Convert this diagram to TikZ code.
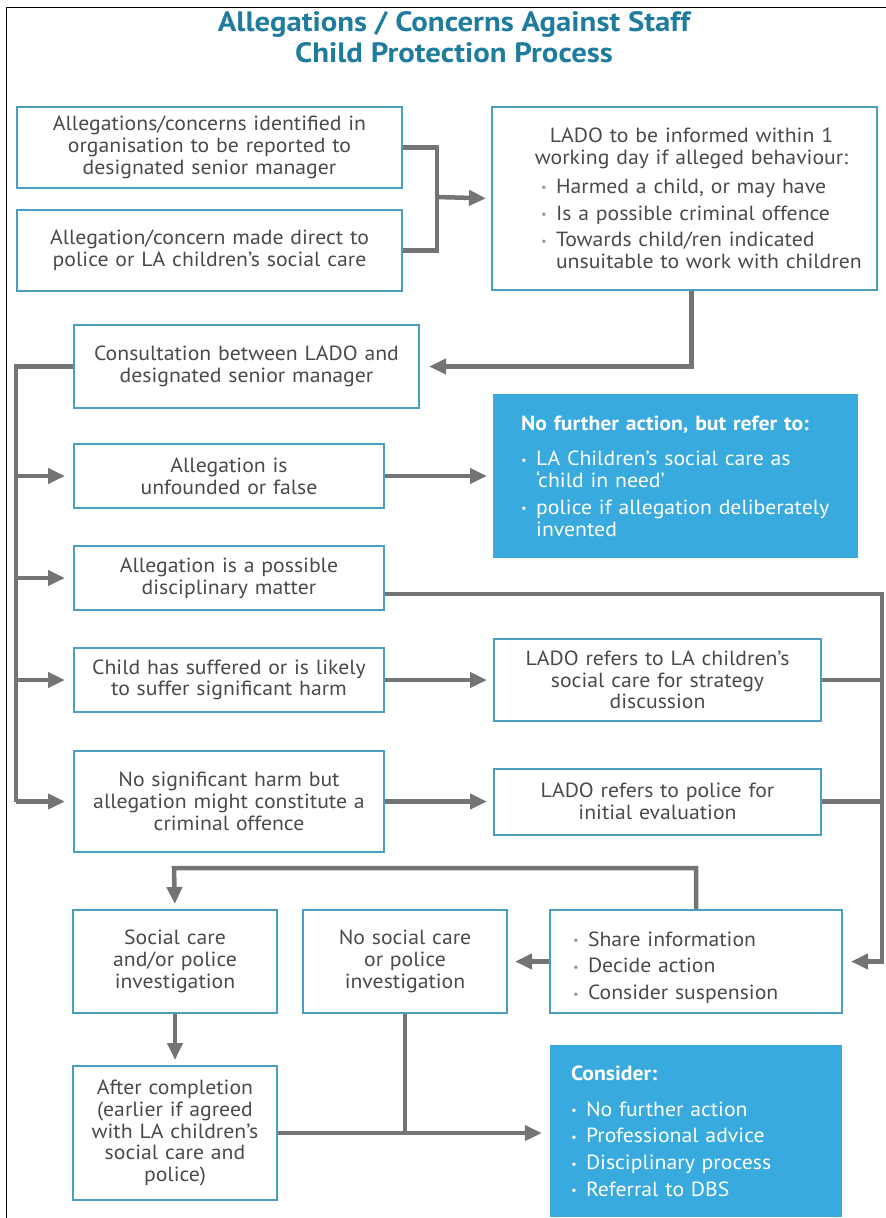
\documentclass[tikz,border=0pt]{standalone}
\usepackage{fontspec}
\setmainfont{PT Sans}[FakeStretch=1.06]
\newfontfamily\cptitlefont{PT Sans}[FakeStretch=1.1]
\usepackage{xcolor}
\usepackage{tikz}
\usetikzlibrary{arrows.meta,positioning}
\definecolor{cpTitle}{HTML}{207C9E}
\definecolor{cpEdge}{HTML}{4A9FC0}
\definecolor{cpFill}{HTML}{39AADD}
\definecolor{cpLine}{HTML}{747474}
\definecolor{cpText}{HTML}{4A4A4A}
\newcommand\cpbody{\fontsize{20.5}{21.7}\selectfont\colorlet{cpDot}{black!40}}
\newcommand\cptitle{\cptitlefont\fontsize{28}{31}\selectfont\bfseries}
\newcommand\cpitem[1]{\par\vspace{5pt}\hangindent=15pt\hangafter=1\noindent
  \makebox[15pt][l]{\raisebox{1.5pt}{\fontsize{12}{12}\selectfont\textcolor{cpDot}{\textbullet}}}#1}

\begin{document}
\begin{tikzpicture}[
  x=1pt, y=-1pt,
  >={Triangle[length=17pt,width=15pt]},
  every node/.style={font=\cpbody, text=cpText},
  box/.style={draw=cpEdge, line width=2pt, fill=white, inner sep=0pt, align=center},
  listbox/.style={box, align=left},
  bluebox/.style={fill=cpFill, inner ysep=0pt, align=left, text=white, font={\cpbody\colorlet{cpDot}{white}}},
  conn/.style={draw=cpLine, line width=4.5pt},
]
  \useasboundingbox (0,0) rectangle (886,1218);
  \draw[line width=1pt] (6,1218) -- (6,7) -- (886,7);

  \node[font=\cptitle, text=cpTitle, align=center] (title) at (454,37)
    {Allegations / Concerns Against Staff\\Child Protection Process};

  % reporting
  \node[box, anchor=north west, text width=385pt, minimum height=81pt] (ident) at (16,106)
    {Allegations/concerns identified in\\organisation to be reported to\\designated senior manager};
  \node[box, below=20pt of ident, text width=385pt, minimum height=81pt] (direct)
    {Allegation/concern made direct to\\police or LA children’s social care};
  \node[listbox, anchor=north west, inner xsep=12pt, text width=361pt, minimum height=183pt] (lado) at (491,106)
    {{\centering\leftskip=14pt plus 1fil\relax LADO to be informed within 1\\working day if alleged behaviour:\par}
     \vspace{2pt}\leftskip=37pt\relax
     \cpitem{Harmed a child, or may have}
     \cpitem{Is a possible criminal offence}
     \cpitem{Towards child/ren indicated\newline unsuitable to work with children}\par};

  % consultation and outcomes
  \node[box, anchor=north west, text width=345pt, minimum height=83pt] (consult) at (73,324)
    {Consultation between LADO and\\designated senior manager};
  \node[box, anchor=north west, text width=310pt, minimum height=64pt] (unfound) at (73,443)
    {Allegation is\\unfounded or false};
  \node[box, below=36pt of unfound, text width=310pt, minimum height=64pt] (discip)
    {Allegation is a possible\\disciplinary matter};
  \node[box, below=36pt of discip, text width=310pt, minimum height=64pt] (harm)
    {Child has suffered or is likely\\to suffer significant harm};
  \node[box, below=37pt of harm, text width=310pt, minimum height=101pt] (crim)
    {No significant harm but\\allegation might constitute a\\criminal offence};

  \node[bluebox, right=108pt of unfound, inner xsep=20pt, text width=325pt, minimum height=164pt] (nfa)
    {\leftskip=8pt\relax\textbf{No further action, but refer to:}\par\vspace{9pt}
     \cpitem{LA Children’s social care as\newline ‘child in need’}
     \cpitem{police if allegation deliberately\newline invented}\par};
  \node[box, right=108pt of harm, text width=327pt, minimum height=82pt] (strat)
    {LADO refers to LA children’s\\social care for strategy\\discussion};
  \node[box, right=108pt of crim, text width=327pt, minimum height=66pt] (police)
    {LADO refers to police for\\initial evaluation};

  % investigation
  \node[box, anchor=north west, text width=204pt, minimum height=103pt] (invest) at (72,909)
    {Social care\\and/or police\\investigation};
  \node[box, right=24pt of invest, text width=204pt, minimum height=103pt] (noinv)
    {No social care\\or police\\investigation};
  \node[listbox, right=41pt of noinv, inner xsep=23pt, text width=246pt, minimum height=103pt] (share)
    {\cpitem{Share information}
     \cpitem{Decide action}
     \cpitem{Consider suspension}\par};
  \node[box, below=51pt of invest, text width=204pt, minimum height=134pt] (after)
    {After completion\\(earlier if agreed\\with LA children’s\\social care and\\police)};
  \node[bluebox, below=31pt of share, inner xsep=21pt, text width=250pt, minimum height=172pt] (consider)
    {\textbf{Consider:}\par\vspace{9pt}
     \cpitem{No further action}
     \cpitem{Professional advice}
     \cpitem{Disciplinary process}
     \cpitem{Referral to DBS}\par};

  % connectors
  \coordinate (merge) at (437,197);
  \coordinate (spine) at (16,0);
  \coordinate (rail) at (882,0);
  \coordinate (loop) at (174,868);

  \draw[conn] (ident.east) -| (merge) |- (direct.east);
  \draw[conn,->,shorten >=5pt] (merge) -- (lado.west);
  \draw[conn,->,shorten >=9pt] ([xshift=7pt]lado.south) |- (consult.east);

  \draw[conn] (consult.west) -| (spine |- crim.west);
  \draw[conn,->,shorten >=8pt] (spine |- unfound.west) -- (unfound.west);
  \draw[conn,->,shorten >=8pt] (spine |- discip.west) -- (discip.west);
  \draw[conn,->,shorten >=8pt] (spine |- harm.west) -- (harm.west);
  \draw[conn,->,shorten >=8pt] (spine |- crim.west) -- (crim.west);

  \draw[conn,->,shorten >=6pt] (unfound) -- (nfa);
  \draw[conn,->,shorten >=6pt] (harm) -- (strat);
  \draw[conn,->,shorten >=6pt] (crim) -- (police);

  \draw[conn,->,shorten >=8pt] ([yshift=-16pt]discip.east) -| (rail |- share.east) -- (share.east);
  \draw[conn] (strat.east) -- (rail |- strat.east);
  \draw[conn] (police.east) -- (rail |- police.east);

  \draw[conn,->,shorten >=5pt] (share.north) |- (loop) -- (invest.north);
  \draw[conn,->,shorten >=7pt] (share.west) -- (noinv.east);
  \draw[conn,->,shorten >=5pt] (invest) -- (after);
  \draw[conn] (noinv.south) -- (noinv.south |- after.east);
  \draw[conn,->,shorten >=8pt] (after.east) -- (after.east -| consider.west);
\end{tikzpicture}
\end{document}
